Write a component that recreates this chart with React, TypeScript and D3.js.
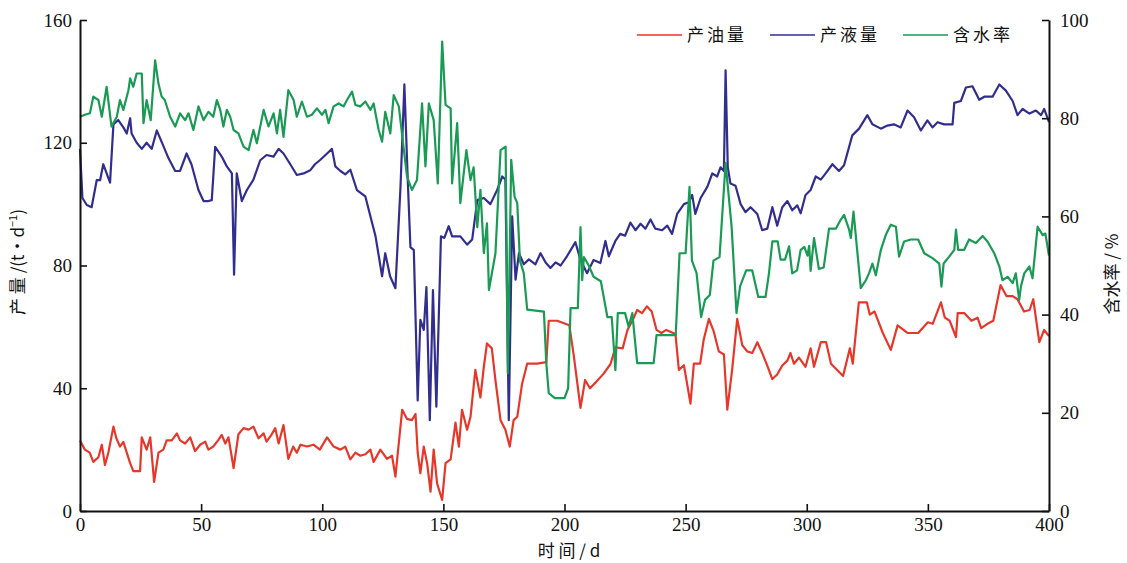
import { useEffect, useRef } from "react";
import * as d3 from "d3";

// [day, t/d]
const oilSeries: [number, number][] = [
  [0, 23], [2, 20], [4, 19], [5.5, 16], [7.6, 17.5], [9, 21.6], [10.3, 15], [11.7, 19], [13.8, 27.5], [15, 23.7],
  [16.5, 21], [17.9, 22.5], [19.3, 19], [20.7, 15.6], [22, 13], [24.8, 13], [25.5, 24], [27.5, 20], [29, 24], [30.6, 9.5],
  [32.4, 19], [34.4, 20], [35.8, 23], [37.9, 23], [40, 25.3], [41.3, 23], [43.4, 22], [45.5, 24], [47.5, 19.5], [49.6, 21.6],
  [51.7, 22.6], [53, 20], [55, 21], [57, 23], [58.5, 24.8], [60, 22], [61.3, 24], [63.4, 14], [65.4, 25], [67.5, 27],
  [69.6, 26.5], [71.6, 27.5], [73.7, 23.7], [75.8, 25.3], [77, 22.6], [79, 24.8], [80.6, 27], [82, 22], [84, 28], [86, 17],
  [88, 21], [89.5, 19], [91, 21.6], [93.7, 21], [96.4, 21.6], [99, 20], [102, 24], [104.7, 21], [107.5, 20], [109.5, 21],
  [111.6, 16.8], [113.7, 19], [115.7, 18], [117.8, 18.5], [119.9, 20], [121.2, 16], [124, 20], [126.7, 17], [128.8, 18], [130.2, 11.2],
  [133, 33], [135, 30], [137, 29.6], [138.5, 31.6], [139.4, 19], [140.5, 12.3], [141.9, 21], [143.3, 15.5], [144.7, 6.3], [146, 20],
  [147.4, 9], [149.5, 3.6], [150.9, 15.6], [153, 16.8], [155, 28.8], [156.4, 21], [157.7, 33], [159.8, 26.5], [161.2, 30.7], [163.2, 46],
  [165.3, 37], [166.7, 47], [168, 54.6], [170, 53], [171.5, 42.6], [173.6, 29.6], [175.6, 26.5], [177.4, 21], [179, 29.6], [180.5, 30.7],
  [182.5, 41.5], [184.6, 48], [188.7, 48], [192.5, 48.5], [193.5, 62], [197, 62], [202, 60.5], [203.8, 50.8], [206.6, 33.6], [208.5, 42.7],
  [210.5, 40], [213, 42], [216, 44.6], [219, 47.9], [221, 53.3], [224, 53], [226, 59], [228, 62], [230, 65.5], [232, 64.5],
  [234, 66.7], [236, 65], [238, 59], [240, 58], [242, 59], [245.8, 57.7], [247.2, 46], [249.3, 47.5], [252, 35], [253.4, 48],
  [256, 48], [257.5, 56], [259.6, 62.6], [261.6, 58.5], [263.7, 52], [265.8, 51], [267.2, 33], [269.2, 46], [271.3, 62.6], [273.4, 54],
  [275.4, 52], [277.5, 51.5], [279.6, 55], [281.6, 51.5], [283.7, 47.4], [285.8, 43], [287.8, 44.5], [289.9, 47.4], [292, 49], [293.3, 51.5],
  [294.7, 48], [296.8, 50], [299.5, 47], [301.6, 53], [303, 47], [305.8, 55], [308, 55], [310, 48], [315, 44], [317.8, 53],
  [319, 48], [321.5, 68], [324.8, 68], [326, 64], [328, 65], [331.4, 58], [334.7, 52.5], [337.5, 60.5], [341.7, 58], [346, 58],
  [350, 61.5], [352, 61], [355.4, 68], [357, 63], [359, 62], [361.6, 56.7], [362.3, 64.5], [365, 64.5], [368, 62], [370.5, 63],
  [372, 59.6], [374.6, 61], [377, 62], [380, 73.6], [382.5, 70], [385, 70], [387, 69], [389.7, 65], [392, 65.5], [393.5, 69],
  [396, 55], [398, 59], [400, 57],
];

// [day, t/d]
const liquidSeries: [number, number][] = [
  [0, 118], [1, 102], [2.8, 99.7], [4.8, 99], [6.9, 107.8], [8.3, 107.8], [9.6, 113], [11, 110], [12.4, 107], [13.8, 126],
  [15.8, 127.4], [17.9, 125], [19.3, 123], [20.7, 128], [21.3, 123], [23.4, 120], [25.5, 118], [27.5, 120], [29.6, 118], [31.7, 124],
  [34.4, 119], [36.5, 115], [39.3, 110.8], [41.3, 110.8], [44, 116.5], [46, 113], [48.9, 104.6], [51, 101], [53, 101], [54.4, 101.3],
  [55.8, 118.7], [58.5, 115.5], [60.6, 112.3], [62.7, 110], [63.6, 77], [64.7, 110], [66.8, 101], [68.9, 104.6], [71.6, 108], [74.4, 114.3],
  [77, 116], [79.9, 115.5], [82, 118], [84, 116.5], [86.8, 113], [89.5, 109.5], [92.3, 110], [95, 111], [97, 113], [99, 114.3],
  [102, 116.5], [104, 118], [105.4, 112.3], [107.5, 110.8], [109.5, 109.7], [111.6, 111.2], [114.3, 104.6], [117.8, 102.5], [119.9, 96], [122, 89.5],
  [124.7, 76.5], [126, 84], [128, 76.5], [130.2, 72.6], [132.3, 105.6], [133.9, 139], [135.3, 107.8], [136.4, 86], [137.8, 85], [139.4, 36],
  [140.5, 62.3], [141.9, 59], [143, 73], [144.4, 29.6], [145.7, 72], [147.1, 34], [149, 89.5], [150.4, 89], [152.2, 92.8], [153.6, 89.5],
  [157, 89.5], [159.8, 86.8], [161.9, 88.5], [164, 101.3], [166.7, 102], [169.4, 100], [172.2, 104.6], [174.3, 109], [175.6, 108], [177, 29.6],
  [178.4, 96], [179.8, 75.4], [181.2, 84], [183.2, 80.4], [185.3, 82], [188, 80.4], [190.1, 84], [192.2, 81], [194.2, 79.2], [196.3, 81],
  [198.4, 80], [201, 83], [204.5, 87.6], [206.6, 81.8], [209.3, 77.5], [212, 81.8], [214.8, 80.8], [216.9, 88], [218.3, 83], [221, 88],
  [223, 90.3], [225, 89.7], [227.2, 94], [229.3, 91.5], [231.4, 93.6], [233.4, 92], [235.5, 95], [237.5, 92], [240.3, 91.5], [242.4, 93],
  [244.4, 90.3], [246.5, 96.8], [249.3, 100], [251.3, 100.6], [252.7, 103], [254, 96.8], [256.2, 102], [259, 105.7], [261, 110], [263, 109],
  [264.4, 112], [265.8, 110.8], [266.5, 143.6], [267.4, 112], [268.5, 106.7], [270.6, 106], [272.7, 100], [274.7, 97.4], [276.8, 99], [279.6, 96.8],
  [281.6, 91.5], [283.7, 92], [285.8, 99], [287.8, 93], [289.9, 99], [292, 101], [294, 98], [296.1, 99.6], [297.5, 97], [299.5, 103],
  [301.6, 104.6], [303.7, 109], [305.8, 108], [307.8, 110], [310.6, 113], [313.3, 110.8], [315.4, 112.7], [317.5, 118.7], [318.8, 122.4], [321.6, 124.6],
  [323.7, 127.3], [325, 129], [327.1, 126], [330.6, 124.6], [333.3, 125.6], [336, 126], [338.8, 125], [341.6, 130.5], [344.3, 128.3], [347.1, 124],
  [349.8, 127.3], [351.9, 125], [354, 126.7], [356.7, 126], [360.2, 126], [360.9, 133], [363.6, 133.6], [365.7, 138], [368.4, 138.4], [371.2, 134],
  [373.3, 135], [376.7, 135], [379.5, 139], [382.2, 137], [385, 133.6], [387, 129], [389.1, 131], [391.9, 129.5], [394.6, 130.5], [396.7, 129],
  [398, 131], [400, 126.7],
];

// [day, %]
const waterCutSeries: [number, number][] = [
  [0, 80.3], [2, 80.7], [4.1, 81], [5.5, 84.4], [7.6, 83.7], [9, 80.3], [11, 86.4], [13, 78.3], [15.2, 80.3], [16.5, 83.7],
  [17.9, 81.7], [20, 85.7], [20.7, 88.1], [22, 86.4], [23.4, 89.1], [25.5, 89.1], [26.2, 79], [27.5, 83.7], [29.2, 79.6], [31, 91.8],
  [32.4, 87], [33.7, 84.4], [35, 83.7], [37.2, 80.3], [39.3, 78.3], [41.3, 81], [43.4, 79.6], [44.8, 81], [46.8, 77.6], [48.9, 82.4],
  [51, 79.6], [53, 81.3], [55, 80.3], [56.5, 83.7], [57.9, 81.7], [59.2, 78.3], [60.6, 81.7], [62, 80.3], [63.4, 77.6], [65.4, 76.9],
  [67.5, 74.2], [69.6, 73.5], [71.6, 77.6], [73, 74.9], [75.8, 81.7], [77.8, 78.3], [79.9, 81], [81.3, 76.9], [82.6, 81.7], [84, 76.2],
  [86, 85.7], [88.2, 83.7], [89.5, 80.3], [91.6, 83.4], [93.7, 80.3], [95.7, 80.7], [97.8, 82], [99.9, 80.7], [101.3, 81.7], [102.6, 79],
  [104.7, 82.4], [106.8, 83], [108.8, 82.4], [110.2, 83.7], [112.3, 85.4], [113.7, 82.7], [115.7, 82.4], [117.8, 83.4], [119.9, 81.7], [121.2, 83],
  [123.3, 77.6], [124.7, 75.2], [126, 81.3], [128.1, 76.9], [129.5, 84.7], [131.6, 82.4], [132.9, 76.9], [135, 68.1], [137, 65.4], [139.1, 67.4],
  [141.2, 83], [142.6, 70.2], [144, 83], [146, 79.6], [147.7, 66.7], [149.5, 95.6], [150.9, 82.7], [153, 82], [153.6, 66.7], [155.7, 79],
  [157, 62.7], [159.5, 73.5], [161.2, 67.4], [162.5, 70], [164, 57.8], [165.3, 65.4], [166.7, 52.5], [168, 58.6], [168.8, 45], [171.5, 52.5],
  [173.6, 73.5], [175.7, 74.2], [176.6, 28], [178, 71.5], [179.4, 64], [180.5, 62.7], [181.6, 51], [183.2, 48.4], [184.6, 41], [191.5, 40.6],
  [192.5, 30], [193.5, 24], [196, 23], [200, 23], [201.5, 25], [202.5, 41.3], [205.5, 41.3], [206.6, 57.8], [207.3, 47], [208, 51.7],
  [210, 50], [212, 47.7], [215, 46.8], [217.7, 39.5], [219.5, 39.5], [221, 28.7], [222, 40.3], [225, 40.3], [226.5, 37.5], [228, 40.3],
  [230, 30.1], [236.8, 30.1], [238, 35.8], [245.9, 35.8], [247.5, 52.5], [250, 52.5], [251.6, 66], [252.6, 51], [254.5, 48.5], [256.4, 39.5],
  [258, 43], [260, 44], [261.5, 51], [264, 51.7], [266.5, 70.9], [269, 57.8], [271, 40.3], [272.5, 45.8], [275, 49], [277.5, 49],
  [280, 43.6], [283, 43.6], [284.4, 48.4], [285.8, 54.9], [288, 54.9], [289.2, 51.2], [291, 51.2], [292.7, 53.9], [294, 48.4], [296, 49],
  [297.5, 53.2], [299, 53.8], [300.3, 52], [301, 54], [301.6, 48.9], [303, 55.6], [305, 49.3], [307, 49.6], [309.2, 57.5], [312, 57.5],
  [314, 59.3], [315.4, 60.3], [317.5, 57.3], [318.2, 55.6], [319.3, 61], [322.3, 45.4], [324.4, 47], [325.7, 48.4], [327.1, 50.4], [328.5, 48],
  [330.6, 53.2], [332.6, 56.2], [334.7, 58.3], [336.8, 57.9], [338.1, 51.8], [340.2, 54.9], [343, 55.3], [346, 55.3], [348.5, 52.5], [351.9, 51.5],
  [354.7, 50.4], [355.6, 45.7], [356.5, 50.4], [358.8, 51.8], [360.9, 53.2], [361.6, 57.3], [362.5, 53.2], [365, 53.2], [367, 55.3], [369.8, 54.6],
  [372.6, 56], [374.6, 54.9], [377.4, 52.5], [379.5, 49.8], [380.8, 47], [382.9, 47.7], [385, 46.4], [386.3, 48.4], [387.7, 43], [388.4, 45.7],
  [389.8, 48.4], [391.9, 49.8], [393.2, 47.4], [395.3, 57.9], [397.4, 56.2], [398.5, 56.5], [400, 52],
];

const xTicks = [0, 50, 100, 150, 200, 250, 300, 350, 400];
const leftTicks = [0, 40, 80, 120, 160];
const rightTicks = [0, 20, 40, 60, 80, 100];
const legendNames = ["产油量", "产液量", "含水率"];

const RED = "#e6372b";
const BLUE = "#312e8e";
const GREEN = "#1b9a55";
const NUM_FONT = "'Liberation Serif', 'Times New Roman', serif";
const CJK_FONT = "'Noto Sans CJK SC', 'Liberation Serif', sans-serif";

const App = () => {
  const ref = useRef<SVGSVGElement>(null);

  useEffect(() => {
    const svg = d3.select(ref.current);
    svg.selectAll("*").remove();

    const width = 1127;
    const height = 563;
    const m = { left: 80, right: 1049, top: 20, bottom: 511 };

    const x = d3.scaleLinear().domain([0, 400]).range([m.left, m.right]);
    const yL = d3.scaleLinear().domain([0, 160]).range([m.bottom, m.top]);
    const yR = d3.scaleLinear().domain([0, 100]).range([m.bottom, m.top]);

    svg.attr("width", width).attr("height", height).attr("viewBox", [0, 0, width, height]);
    svg.append("rect").attr("width", width).attr("height", height).attr("fill", "#fff");

    const lineL = d3.line<[number, number]>().x((d) => x(d[0])).y((d) => yL(d[1]));
    const lineR = d3.line<[number, number]>().x((d) => x(d[0])).y((d) => yR(d[1]));

    const lines = svg.append("g").attr("fill", "none").attr("stroke-width", 2.2).attr("stroke-linejoin", "round");
    lines.append("path").attr("d", lineL(oilSeries)).attr("stroke", RED);
    lines.append("path").attr("d", lineL(liquidSeries)).attr("stroke", BLUE);
    lines.append("path").attr("d", lineR(waterCutSeries)).attr("stroke", GREEN);

    const styleAxis = (g) => {
      g.select(".domain").attr("stroke", "#111").attr("stroke-width", 2);
      g.selectAll(".tick line").attr("stroke", "#111").attr("stroke-width", 1.6);
      g.selectAll(".tick text").attr("font-family", NUM_FONT).attr("font-size", 19).attr("fill", "#111");
    };

    svg.append("g")
      .attr("transform", `translate(0,${m.bottom})`)
      .call(d3.axisBottom(x).tickValues(xTicks).tickSizeInner(-7).tickSizeOuter(0).tickPadding(7))
      .call(styleAxis);

    svg.append("g")
      .attr("transform", `translate(${m.left},0)`)
      .call(d3.axisLeft(yL).tickValues(leftTicks).tickSizeInner(-7).tickSizeOuter(0).tickPadding(8))
      .call(styleAxis);

    svg.append("g")
      .attr("transform", `translate(${m.right},0)`)
      .call(d3.axisRight(yR).tickValues(rightTicks).tickSizeInner(-7).tickSizeOuter(0).tickPadding(11))
      .call(styleAxis);

    // axis titles
    svg.append("text")
      .attr("x", 569).attr("y", 557)
      .attr("text-anchor", "middle")
      .attr("font-family", CJK_FONT).attr("font-size", 17).attr("fill", "#111")
      .text("时 间 / d");

    const lt = svg.append("text")
      .attr("transform", "translate(24,262) rotate(-90)")
      .attr("text-anchor", "middle")
      .attr("font-family", CJK_FONT).attr("font-size", 17).attr("fill", "#111");
    lt.append("tspan").text("产 量 /(t·d");
    lt.append("tspan").attr("dy", -7).attr("font-size", 11).text("−1");
    lt.append("tspan").attr("dy", 7).text(")");

    svg.append("text")
      .attr("transform", "translate(1118,274) rotate(-90)")
      .attr("text-anchor", "middle")
      .attr("font-family", CJK_FONT).attr("font-size", 17).attr("fill", "#111")
      .text("含水率 / %");

    // legend
    const legendColors = [RED, BLUE, GREEN];
    const legendX = [637, 770, 903];
    const legend = svg.append("g");
    legendNames.forEach((name, i) => {
      legend.append("line")
        .attr("x1", legendX[i]).attr("x2", legendX[i] + 45)
        .attr("y1", 35).attr("y2", 35)
        .attr("stroke", legendColors[i]).attr("stroke-width", 1.3);
      legend.append("text")
        .attr("x", legendX[i] + 50).attr("y", 41)
        .attr("font-family", CJK_FONT).attr("font-size", 17).attr("letter-spacing", 3).attr("fill", "#111")
        .text(name);
    });
  }, []);

  return <svg ref={ref} style={{ position: "absolute", left: 0, top: 0 }}></svg>;
};

export default App;
